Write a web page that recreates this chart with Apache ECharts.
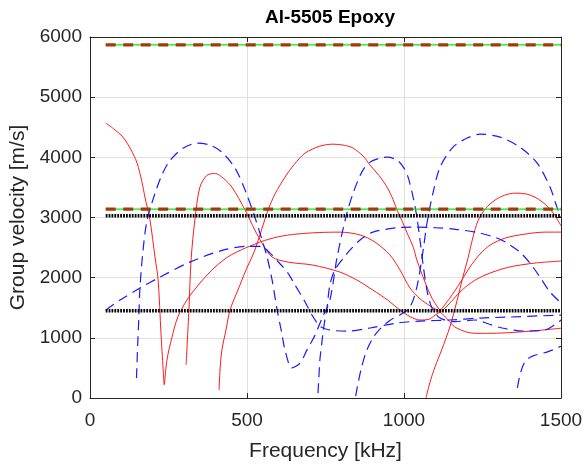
<!DOCTYPE html>
<html>
<head>
<meta charset="utf-8">
<script src="https://cdn.jsdelivr.net/npm/echarts@6/dist/echarts.min.js"></script>
<style>html,body{margin:0;padding:0;background:#fff}#c{width:585px;height:465px}</style>
</head>
<body>
<div id="c"></div>
<script>
// ---- data (frequency kHz, group velocity m/s) ----
const titleText = 'Al-5505 Epoxy';
const xName = 'Frequency [kHz]';
const yName = 'Group velocity [m/s]';
const xTicks = [0, 500, 1000, 1500];
const yTicks = [0, 1000, 2000, 3000, 4000, 5000, 6000];

// red solid modes
const red1a = [[50,4570],[75,4475],[105,4336],[130,4130],[150,3904],[165,3600],[175,3339],[191,2957],[207,2342],[217,1960],[226,1080],[236,220]];
const red1b = [[237,220],[245,630],[261,1010],[280,1350],[309,1630],[350,1910],[398,2175],[450,2380],[541,2590],[600,2680],[659,2725],[730,2750],[796,2757],[860,2710],[908,2590],[955,2380],[987,2130],[1019,1830],[1051,1650],[1083,1530],[1115,1430],[1140,1300],[1162,1180],[1204,1090],[1242,1075],[1312,1080],[1400,1110],[1500,1160]];
const red2 = [[306,550],[315,1460],[322,2300],[334,2960],[350,3505],[373,3704],[400,3730],[425,3650],[452,3505],[494,3123],[525,2791],[548,2575],[580,2342],[631,2259],[710,2209],[796,2093],[850,1960],[901,1794],[950,1620],[987,1462],[1020,1350],[1051,1296],[1080,1310],[1099,1379],[1124,1462],[1150,1600],[1178,1760],[1215,1920],[1258,2043],[1330,2170],[1417,2243],[1500,2276]];
const red3a = [[411,133],[414,465],[420,797],[433,1130],[446,1462],[471,1794],[497,2130],[525,2458],[567,3123],[590,3400],[621,3671],[650,3880],[685,4070],[732,4186],[774,4219],[810,4200],[838,4153],[870,4020],[892,3870],[920,3700],[946,3505],[965,3300],[978,3123],[995,2930],[1010,2741],[1030,2500],[1041,2292],[1067,1927],[1089,1661],[1115,1450]];
const red3b = [[1115,1450],[1146,1661],[1178,1910],[1210,2176],[1242,2392],[1274,2541],[1322,2658],[1385,2724],[1449,2757],[1500,2757]];
const red4 = [[1070,0],[1082,250],[1099,520],[1120,800],[1146,1180],[1169,1620],[1187,2000],[1204,2330],[1220,2680],[1236,2950],[1260,3150],[1290,3290],[1320,3370],[1354,3405],[1390,3390],[1417,3339],[1440,3260],[1459,3173],[1480,3040],[1500,2860]];

// blue dashed modes
const blue1 = [[50,1460],[96,1628],[159,1827],[223,2010],[318,2259],[424,2458],[500,2520],[545,2520],[575,2400],[600,2260],[630,2080],[653,1877],[685,1595],[707,1379],[732,1196],[764,1130],[818,1113],[892,1163],[978,1246],[1051,1279],[1146,1296],[1242,1329],[1338,1346],[1500,1379]];
const blue2 = [[148,330],[152,900],[156,1400],[159,1830],[169,2460],[182,2960],[207,3400],[230,3720],[255,3950],[296,4150],[341,4236],[382,4203],[420,4086],[462,3821],[494,3455],[525,3007],[551,2575],[564,2342],[580,1960],[596,1462],[610,1100],[621,800],[643,500],[669,580],[691,800],[717,1047],[739,1329],[764,1628],[787,2342],[815,3007],[838,3405],[869,3787],[895,3930],[924,3987],[946,4003],[978,3953],[1000,3821],[1013,3671],[1029,3339],[1041,3007],[1051,2625],[1061,2209],[1073,1794],[1089,1495],[1115,1329],[1162,1270],[1226,1296],[1270,1230],[1312,1163],[1385,1113],[1449,1130],[1500,1296]];
const blue3 = [[846,30],[852,200],[863,470],[879,760],[901,1000],[924,1150],[955,1290],[987,1379],[1019,1512],[1041,1844],[1061,2458],[1073,2900],[1092,3400],[1115,3837],[1156,4169],[1201,4320],[1242,4385],[1306,4336],[1369,4169],[1424,3904],[1465,3505],[1487,3173],[1500,3007]];
const blue4 = [[726,80],[729,350],[732,630],[737,860],[742,1080],[748,1300],[755,1512],[764,1880],[780,2130],[806,2320],[830,2470],[860,2625],[901,2757],[978,2830],[1029,2840],[1100,2830],[1170,2800],[1242,2741],[1300,2650],[1328,2575],[1369,2425],[1401,2243],[1433,2010],[1465,1761],[1500,1580]];
const blue5 = [[1361,170],[1368,350],[1379,540],[1392,640],[1411,700],[1459,770],[1500,860]];

// bulk wave reference velocities
const refFreq = [50, 1500];
const greenLevels = [5870, 3140];
const brownLevels = [5870, 3140];
const blackLevels = [3030, 1450];

// ---- chart ----
const FONT = 'Liberation Sans, Arial, Helvetica, sans-serif';
function curve(data, color, dashed) {
  return {
    type: 'line', data: data, symbol: 'none', showSymbol: false, smooth: 0.3,
    silent: true, animation: false, clip: true,
    lineStyle: { color: color, width: dashed ? 1.2 : 1, type: dashed ? [10, 6] : 'solid' }
  };
}
function hline(v, color, width, type) {
  return {
    type: 'line', data: refFreq.map(f => [f, v]), symbol: 'none', showSymbol: false,
    silent: true, animation: false,
    lineStyle: { color: color, width: width, type: type }
  };
}
const series = [];
[red1a, red1b, red2, red3a, red3b, red4].forEach(d => series.push(curve(d, '#ff1a1a', false)));
[blue1, blue2, blue3, blue4, blue5].forEach(d => series.push(curve(d, '#1a1aff', true)));
greenLevels.forEach(v => series.push(hline(v, '#00ee00', 1.2, 'solid')));
brownLevels.forEach(v => series.push(hline(v, '#a33a08', 3.2, [10, 7.5])));
blackLevels.forEach(v => series.push(hline(v, '#000000', 3.4, [1.8, 1.1])));

const axisCol = '#262626';
const plain = v => String(v);
const common = {
  min: xTicks[0], max: xTicks[xTicks.length - 1], interval: xTicks[1] - xTicks[0]
};
const ycommon = {
  min: yTicks[0], max: yTicks[yTicks.length - 1], interval: yTicks[1] - yTicks[0]
};
const option = {
  backgroundColor: '#fff',
  animation: false,
  title: {
    text: titleText, left: 325, top: 3, textAlign: 'center',
    textStyle: { fontFamily: FONT, fontSize: 19, fontWeight: 'bold', color: '#000' }
  },
  grid: { left: 90, right: 24, top: 37, bottom: 67, containLabel: false, outerBoundsMode: 'none' },
  xAxis: [
    Object.assign({
      type: 'value', position: 'bottom',
      name: xName, nameLocation: 'middle', nameGap: 43,
      nameTextStyle: { fontFamily: FONT, fontSize: 21, color: axisCol },
      axisLine: { show: true, onZero: false, lineStyle: { color: axisCol, width: 1 } },
      axisTick: { show: true, inside: true, length: 5, lineStyle: { color: axisCol } },
      axisLabel: { show: true, margin: 13, fontFamily: FONT, fontSize: 19, color: axisCol, formatter: plain },
      splitLine: { show: true, lineStyle: { color: '#dfdfdf', width: 1 } }
    }, common),
    Object.assign({
      type: 'value', position: 'top',
      axisLine: { show: true, onZero: false, lineStyle: { color: axisCol, width: 1 } },
      axisTick: { show: true, inside: true, length: 5, lineStyle: { color: axisCol } },
      axisLabel: { show: false }, splitLine: { show: false }
    }, common)
  ],
  yAxis: [
    Object.assign({
      type: 'value', position: 'left',
      name: yName, nameLocation: 'middle', nameGap: 58, nameRotate: 90,
      nameTextStyle: { fontFamily: FONT, fontSize: 21, color: axisCol },
      axisLine: { show: true, onZero: false, lineStyle: { color: axisCol, width: 1 } },
      axisTick: { show: true, inside: true, length: 5, lineStyle: { color: axisCol } },
      axisLabel: { show: true, margin: 8, fontFamily: FONT, fontSize: 19, color: axisCol, formatter: plain },
      splitLine: { show: true, lineStyle: { color: '#dfdfdf', width: 1 } }
    }, ycommon),
    Object.assign({
      type: 'value', position: 'right',
      axisLine: { show: true, onZero: false, lineStyle: { color: axisCol, width: 1 } },
      axisTick: { show: true, inside: true, length: 5, lineStyle: { color: axisCol } },
      axisLabel: { show: false }, splitLine: { show: false }
    }, ycommon)
  ],
  series: series
};
const chart = echarts.init(document.getElementById('c'), null, { renderer: 'canvas' });
chart.setOption(option);
</script>
</body>
</html>
